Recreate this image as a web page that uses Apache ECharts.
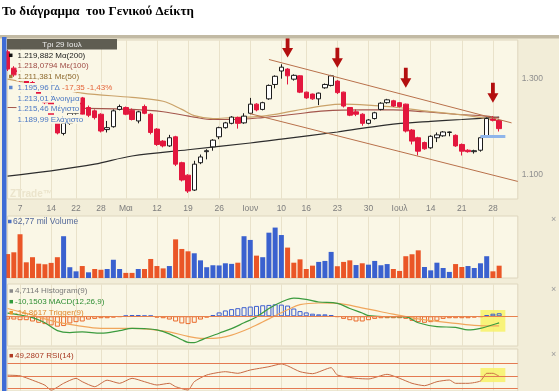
<!DOCTYPE html>
<html><head><meta charset="utf-8">
<script src="https://cdn.jsdelivr.net/npm/echarts@6/dist/echarts.min.js"></script>
<style>html,body{margin:0;padding:0;background:#fff;}#c{width:559px;height:391px;}</style>
</head><body><div id="c"></div>
<script>
// ---------- DATA ----------
const dates = ['03/04','04/04','07/04','08/04','09/04','10/04','11/04','14/04','15/04','16/04','17/04','22/04','23/04','24/04','25/04','28/04','29/04','30/04','02/05','05/05','06/05','07/05','08/05','09/05','12/05','13/05','14/05','15/05','16/05','19/05','20/05','21/05','22/05','23/05','26/05','27/05','28/05','29/05','30/05','02/06','03/06','04/06','05/06','06/06','10/06','11/06','12/06','13/06','16/06','17/06','18/06','19/06','20/06','23/06','24/06','25/06','26/06','27/06','30/06','01/07','02/07','03/07','04/07','07/07','08/07','09/07','10/07','11/07','14/07','15/07','16/07','17/07','18/07','21/07','22/07','23/07','24/07','25/07','28/07','29/07','30/07','31/07','01/08'];
const tickDates  = ['07/04','14/04','22/04','28/04','05/05','12/05','19/05','26/05','02/06','10/06','16/06','23/06','30/06','07/07','14/07','21/07','28/07'];
const tickLabels = ['7','14','22','28','Μαι','12','19','26','Ιουν','10','16','23','30','Ιουλ','14','21','28'];

const opens  = [1356,1322,1310,1300,1292,1284,1262,1255,1208,1186,1207,1228,1260,1240,1233,1226,1194,1200,1236,1240,1234,1212,1242,1226,1195,1170,1160,1179,1125,1099,1068,1125,1148,1158,1179,1198,1207,1219,1208,1228,1247,1236,1258,1288,1316,1320,1299,1306,1272,1268,1258,1281,1286,1295,1272,1240,1231,1226,1207,1217,1236,1250,1254,1250,1247,1193,1177,1167,1156,1177,1181,1188,1182,1163,1151,1148,1151,1181,1216,1213.01];
const closes = [1320,1308,1298,1290,1280,1262,1250,1215,1187,1207,1228,1240,1226,1224,1219,1191,1198,1233,1242,1226,1215,1231,1228,1188,1163,1160,1177,1122,1089,1066,1122,1137,1150,1172,1198,1208,1220,1207,1222,1247,1235,1250,1286,1305,1324,1306,1307,1272,1260,1258,1270,1288,1306,1271,1243,1224,1226,1207,1214,1229,1249,1256,1243,1242,1191,1170,1149,1154,1180,1183,1189,1189,1160,1149,1148,1150,1177,1217,1213.31,1195.96];
const lows   = [1316,1304,1294,1286,1277,1259,1246,1212,1184,1182,1204,1225,1222,1220,1215,1188,1188,1198,1234,1224,1213,1207,1226,1184,1160,1157,1158,1118,1086,1062,1066,1122,1132,1150,1174,1196,1205,1196,1206,1226,1232,1234,1256,1280,1300,1288,1296,1270,1258,1256,1245,1279,1284,1268,1240,1222,1222,1202,1205,1215,1234,1248,1241,1240,1188,1163,1140,1152,1154,1168,1179,1180,1158,1140,1146,1144,1148,1179,1211,1189.99];
const highs  = [1360,1326,1313,1303,1295,1286,1265,1257,1210,1210,1232,1244,1262,1244,1236,1228,1212,1236,1246,1242,1238,1233,1246,1228,1197,1172,1183,1181,1127,1101,1129,1142,1153,1174,1200,1210,1222,1221,1228,1260,1249,1252,1288,1307,1330,1322,1309,1307,1273,1269,1271,1290,1308,1297,1273,1241,1236,1228,1216,1231,1251,1258,1256,1251,1248,1195,1179,1169,1182,1188,1191,1190,1184,1165,1153,1152,1179,1219,1222,1215.46];

const volumes = [122,131,223,80,106,73,70,77,106,213, 55,34,61,29,46,42,46,93,46,26, 26,46,46,97,61,49,61,197,148,136, 126,90,55,65,64,75,72,78,213,194, 114,106,231,257,219,155,78,95,46,63, 82,87,133,60,82,90,66,75,68,87, 65,71,46,36,111,121,141,56,39,78, 51,31,71,56,61,51,75,111,34,62.77];
const volumeDirection = 'DDDDDDDDDU' + 'UUDUDDUUUD' + 'DUDDDDUDDD' + 'UUUUUUUDUU' + 'DUUUUDDDDD' + 'UUUDDDUDUU' + 'UUDDDDDUUU' + 'UUDDUUUUDD';

const ma200 = [['03/04',1097],['14/04',1108],['25/04',1122],['06/05',1139],['19/05',1152],['02/06',1166],['10/06',1174],['23/06',1189],['03/07',1204],['14/07',1211],['21/07',1215],['29/07',1219.882]];
const ma100 = [['03/04',1240],['17/04',1239],['06/05',1236],['13/05',1231],['20/05',1220],['23/05',1215],['28/05',1215],['04/06',1219],['12/06',1226],['19/06',1233],['27/06',1235],['04/07',1235],['11/07',1231],['18/07',1226],['25/07',1222],['29/07',1218.0794]];
const ma50  = [['03/04',1299],['11/04',1285],['23/04',1270],['06/05',1261],['13/05',1253],['16/05',1236],['20/05',1223],['23/05',1217],['28/05',1219],['04/06',1222],['12/06',1233],['19/06',1244],['24/06',1247],['01/07',1244],['04/07',1241],['11/07',1233],['18/07',1226],['25/07',1217],['29/07',1211.381]];

const histogram = [-5,-5,-6,-6,-8,-10,-12,-14,-16,-15, -11,-9,-8,-5,-4,-3,-3,-2,-1,1, 2,2,1,1,-2,-3,-5,-8,-11,-12, -10,-5,-2,2,6,9,11,12.5,14,15, 16,17,17.5,18.5,18,16.5,12,8,6,4, 3,3,2,-1,-4,-6,-8,-8,-6,-4, -3,-3,-3,-3,-4,-7,-9,-10,-9,-7, -4,-3,-3,-3,-3,-2,-1,2,4,4.7114];
const macd = [['03/04',5],['07/04',2],['09/04',-2],['11/04',-10],['15/04',-22],['17/04',-25],['23/04',-24],['28/04',-26],['02/05',-22],['06/05',-18.5],['08/05',-19],['12/05',-21],['14/05',-27],['16/05',-36],['19/05',-40],['20/05',-40.5],['21/05',-37],['22/05',-33],['26/05',-26],['28/05',-19],['30/05',-10],['03/06',-1],['05/06',12],['10/06',22],['12/06',28],['16/06',26],['18/06',22],['23/06',20],['25/06',12],['27/06',5],['30/06',1],['03/07',-0.5],['08/07',-1],['10/07',-10],['15/07',-16],['18/07',-17],['22/07',-21],['24/07',-18.5],['28/07',-13],['29/07',-10.1503]];
const trigger = [['03/04',12],['07/04',7],['09/04',2],['11/04',-4],['15/04',-9],['22/04',-14],['28/04',-18.5],['06/05',-18.5],['09/05',-20],['14/05',-24],['19/05',-31],['21/05',-34],['23/05',-34],['28/05',-29],['02/06',-18],['05/06',-4],['11/06',10],['13/06',18],['18/06',20.5],['23/06',20],['26/06',15],['02/07',7],['07/07',1.5],['10/07',-4],['15/07',-7.7],['18/07',-10.8],['23/07',-14],['29/07',-14.8617]];
const rsi = [['03/04',51],['07/04',50],['09/04',43],['11/04',35],['14/04',27],['16/04',38],['22/04',46],['23/04',40.6],['25/04',32.6],['29/04',43],['02/05',38],['06/05',46],['08/05',40.6],['12/05',35.3],['14/05',38],['15/05',32.6],['19/05',27.3],['20/05',40.6],['22/05',51.3],['27/05',56.6],['29/05',54],['02/06',59.3],['05/06',64.6],['10/06',69],['11/06',66],['13/06',56.6],['17/06',53.4],['20/06',63],['23/06',51.3],['26/06',46],['30/06',45],['03/07',52.4],['07/07',46],['09/07',38],['11/07',34.2],['15/07',40.6],['17/07',43.3],['18/07',38],['22/07',38],['24/07',41.7],['25/07',54],['28/07',54],['29/07',49.2807]];
const rsiLevels = [70, 50, 30];

// annotations (data coordinates)
const arrowDates = ['11/06','23/06','08/07','28/07'];
const arrowTips  = [1344, 1323, 1281, 1250];
const upperTrend = [['05/06',1340],['31/07',1208]];
const lowerTrend = [['02/06',1227],['01/08',1086]];
const markerBar  = [['24/07',1180],['30/07',1180]];

// ---------- CHART ----------
const chart = echarts.init(document.getElementById('c'));
const tickSet = new Set(tickDates);
const tickMap = {}; tickDates.forEach((d, j) => tickMap[d] = tickLabels[j]);
const isTick = (idx, val) => tickSet.has(val);
const FONT = 'Liberation Sans';
const PLOT_BG = '#faf7e6';

function xAxisFor(g, labels) {
  return {
    type: 'category', data: dates, gridIndex: g, boundaryGap: false,
    axisLine: {show: false}, axisTick: {show: false},
    axisLabel: labels ? {interval: isTick, formatter: v => tickMap[v] || '', color: '#7d7d7d', fontSize: 8.5, margin: 5, fontFamily: FONT} : {show: false},
    splitLine: {show: true, interval: isTick, lineStyle: {color: '#e9e2ca', width: 1}}
  };
}
function gridFor(top, height) {
  return {left: 7.6, right: 41.2, top: top, height: height, show: true, backgroundColor: PLOT_BG, borderColor: '#ded6be', borderWidth: 1};
}
function boxLabel(text, bg, size) {
  return {show: true, position: 'end', formatter: text, color: '#ffffff', backgroundColor: bg,
    padding: [1, 3, 0, 3], fontSize: size || 10, lineHeight: size ? size + 0.5 : 10, fontFamily: FONT, distance: 3};
}
function valueBox(y, text, bg, size) {
  return {silent: true, symbol: ['none', 'none'], animation: false, lineStyle: {opacity: 0},
    data: [{yAxis: y, label: boxLabel(text, bg, size)}]};
}
const thousands = v => { const s = String(Math.round(v)); return s.slice(0, s.length - 3) + '.' + s.slice(-3); };

const candleData = opens.map((o, j) => [o, closes[j], lows[j], highs[j]]);
const volData = volumes.map((v, j) => ({value: v, itemStyle: {color: volumeDirection[j] === 'U' ? '#3a61cf' : '#ea5627'}}));
const histData = histogram.map(v => ({value: v, itemStyle: {color: 'rgba(0,0,0,0)', borderColor: v >= 0 ? '#3d5fcf' : '#ea6b2c', borderWidth: 1}}));

const lineBase = {type: 'line', showSymbol: false, symbol: 'none', smooth: 0.35};

const series = [
  Object.assign({}, lineBase, {name: 'ma200', xAxisIndex: 0, yAxisIndex: 0, data: ma200, lineStyle: {color: '#2d2d2d', width: 1.2}, z: 2,
    markLine: valueBox(1219.882, '1.219,882', '#1e1e1e')}),
  Object.assign({}, lineBase, {name: 'ma100', xAxisIndex: 0, yAxisIndex: 0, data: ma100, lineStyle: {color: '#a4564c', width: 1.1}, z: 2}),
  Object.assign({}, lineBase, {name: 'ma50', xAxisIndex: 0, yAxisIndex: 0, data: ma50, lineStyle: {color: '#caa269', width: 1.2}, z: 2,
    markLine: valueBox(1211.381, '1.211,381', '#9a7432')}),
  {
    type: 'candlestick', name: 'ΓΔ', xAxisIndex: 0, yAxisIndex: 0, data: candleData, barWidth: 5, clip: false, z: 3,
    itemStyle: {color: '#ffffff', color0: '#e3173e', borderColor: '#1c1c1c', borderColor0: '#e3173e', borderWidth: 1},
    markPoint: {
      silent: true, animation: false,
      symbol: 'path://M3.6,0 L7.4,0 L7.4,10.5 L11,10.5 L5.5,20 L0,10.5 L3.6,10.5 Z',
      symbolSize: [11, 20], symbolOffset: [0, '-50%'], symbolKeepAspect: false,
      itemStyle: {color: '#b30f0f'}, label: {show: false},
      data: arrowDates.map((d, j) => ({coord: [d, arrowTips[j]]}))
    },
    markLine: {
      silent: true, animation: false, symbol: ['none', 'none'], label: {show: false},
      lineStyle: {type: 'solid'},
      data: [
        [{coord: upperTrend[0], lineStyle: {color: '#b9714b', width: 1, type: 'solid'}}, {coord: upperTrend[1]}],
        [{coord: lowerTrend[0], lineStyle: {color: '#b9714b', width: 1, type: 'solid'}}, {coord: lowerTrend[1]}],
        [{coord: markerBar[0], lineStyle: {color: '#8fb5ea', width: 3, type: 'solid'}}, {coord: markerBar[1]}],
        {yAxis: 1195.96, lineStyle: {opacity: 0}, label: boxLabel('1.195,96', '#6f9de2')}
      ]
    }
  },
  {type: 'bar', name: 'volume', xAxisIndex: 1, yAxisIndex: 1, data: volData, barWidth: 5,
    markLine: valueBox(62.77, '62,77 mil', '#6b95dc', 9)},
  {type: 'line', name: 'hl1', xAxisIndex: 2, yAxisIndex: 2, data: [], z: 1,
    markArea: {silent: true, animation: false, itemStyle: {color: 'rgba(247,242,110,0.9)'}, data: [[{coord: ['24/07', 9.7]}, {coord: ['30/07', -23.7]}]]}},
  {type: 'bar', name: 'hist', xAxisIndex: 2, yAxisIndex: 2, data: histData, barWidth: 5, z: 2,
    markLine: {silent: true, animation: false, symbol: ['none', 'none'], label: {show: false}, lineStyle: {type: 'solid'},
      data: [
        {yAxis: 0, lineStyle: {color: '#e8824e', width: 1, type: 'solid'}},
        {yAxis: 4.7114, lineStyle: {opacity: 0}, label: boxLabel('4,7114', '#8c8c8c')}
      ]}},
  Object.assign({}, lineBase, {name: 'trigger', xAxisIndex: 2, yAxisIndex: 2, data: trigger, lineStyle: {color: '#f0a65c', width: 1.2}, z: 3,
    markLine: valueBox(-14.8617, '-14,8617', '#ea952e')}),
  Object.assign({}, lineBase, {name: 'macd', xAxisIndex: 2, yAxisIndex: 2, data: macd, lineStyle: {color: '#3b9b3e', width: 1.2}, z: 4,
    markLine: valueBox(-10.1503, '-10,1503', '#1f9a46')}),
  {type: 'line', name: 'hl2', xAxisIndex: 3, yAxisIndex: 3, data: [], z: 1,
    markArea: {silent: true, animation: false, itemStyle: {color: 'rgba(247,242,110,0.9)'}, data: [[{coord: ['24/07', 62.5]}, {coord: ['30/07', 40]}]]}},
  Object.assign({}, lineBase, {name: 'rsi', xAxisIndex: 3, yAxisIndex: 3, data: rsi, smooth: 0.2, lineStyle: {color: '#c76a43', width: 1}, z: 3,
    markLine: {silent: true, animation: false, symbol: ['none', 'none'], label: {show: false}, lineStyle: {type: 'solid'},
      data: rsiLevels.map(v => ({yAxis: v, lineStyle: {color: '#e47a52', width: 1, type: 'solid'}}))
        .concat([{yAxis: 49.2807, lineStyle: {opacity: 0}, label: boxLabel('49,2807', '#c43a1c')}])}})
];

function legendText(x, y, text, fill, size, bg) {
  const st = {text: text, fill: fill, font: (size || 8) + 'px "' + FONT + '"', verticalAlign: 'middle', align: 'left'};
  if (bg) { st.backgroundColor = bg; st.padding = [1, 1, 0, 1]; }
  return {type: 'text', x: x, y: y, z: 100, silent: true, style: st};
}
function square(x, y, fill) {
  return {type: 'rect', z: 100, silent: true, shape: {x: x, y: y - 1.75, width: 3.5, height: 3.5}, style: {fill: fill}};
}

const graphics = [
  {type: 'rect', z: -10, silent: true, shape: {x: 0, y: 36, width: 559, height: 355}, style: {fill: '#f2edd8'}},
  {type: 'rect', z: 60, silent: true, shape: {x: 0, y: 35, width: 559, height: 3.5}, style: {fill: '#c2baa4'}},
  {type: 'rect', z: 60, silent: true, shape: {x: 2, y: 37, width: 4.5, height: 354}, style: {fill: '#3e6cd6'}},
  {type: 'text', x: 2, y: 12, z: 100, silent: true, style: {text: 'Το διάγραμμα  του Γενικού Δείκτη', fill: '#000', font: 'bold 13px "Liberation Serif"', verticalAlign: 'middle'}},
  {type: 'rect', z: 100, silent: true, shape: {x: 7, y: 39, width: 110, height: 10.5}, style: {fill: '#5f5d52'}},
  {type: 'text', x: 62, y: 44.5, z: 101, silent: true, style: {text: 'Τρι 29 Ιουλ', fill: '#ececec', font: '8px "' + FONT + '"', align: 'center', verticalAlign: 'middle'}},
  {type: 'text', x: 10, y: 194, z: 5, silent: true, style: {text: 'ZTrade™', fill: '#ebe4cc', font: 'bold 10px "' + FONT + '"', verticalAlign: 'middle'}},
  square(9, 55.3, '#111111'),
  legendText(16.5, 55.3, '1.219,882 Μα(200)', '#1a1a1a', 8, PLOT_BG),
  legendText(16.5, 65.8, '1.218,0794 Με(100)', '#9e4a44', 8, PLOT_BG),
  square(9, 76.5, '#a27b3a'),
  legendText(16.5, 76.5, '1.211,381 Με(50)', '#8e6a2e', 8, PLOT_BG),
  square(9, 87.5, '#5b86d0'),
  {type: 'text', x: 16.5, y: 87.5, z: 100, silent: true, style: {
    text: '{a|1.195,96 ΓΔ} {b|-17,35 -1,43%}', font: '8px "' + FONT + '"', verticalAlign: 'middle', backgroundColor: PLOT_BG, padding: [1, 1, 0, 1],
    rich: {a: {fill: '#4b78c4', font: '8px "' + FONT + '"'}, b: {fill: '#e5653a', font: '8px "' + FONT + '"'}}}},
  legendText(16.5, 98.3, '1.213,01 Άνοιγμα', '#4b78c4', 8, PLOT_BG),
  legendText(16.5, 108.8, '1.215,46 Μέγιστο', '#4b78c4', 8, PLOT_BG),
  legendText(16.5, 119.3, '1.189,99 Ελάχιστο', '#4b78c4', 8, PLOT_BG),
  square(8, 221.5, '#4a6fc4'),
  legendText(13, 221.5, '62,77 mil Volume', '#54699a', 8.5),
  square(9.5, 291, '#8a8a8a'),
  legendText(15, 291, '4,7114 Histogram(9)', '#7a7a7a', 8),
  square(9.5, 301.7, '#2f9a3a'),
  legendText(15, 301.7, '-10,1503 MACD(12,26,9)', '#2f8f34', 8),
  square(9.5, 312.7, '#e8952e'),
  legendText(15, 312.7, '-14,8617 Trigger(9)', '#e08a2e', 8),
  square(9.5, 355.7, '#b03a22'),
  legendText(15, 355.7, '49,2807 RSI(14)', '#a83a22', 8),
  legendText(551, 220, '×', '#9a9a9a', 9),
  legendText(551, 290, '×', '#9a9a9a', 9),
  legendText(551, 355, '×', '#9a9a9a', 9)
];

chart.setOption({
  animation: false,
  backgroundColor: '#ffffff',
  textStyle: {fontFamily: FONT},
  grid: [gridFor(40, 159), gridFor(216, 62), gridFor(284, 62), gridFor(349, 42)],
  xAxis: [xAxisFor(0, true), xAxisFor(1, false), xAxisFor(2, false), xAxisFor(3, false)],
  yAxis: [
    {type: 'value', gridIndex: 0, position: 'right', min: 1049.4, max: 1380.6,
      axisLine: {show: false}, axisTick: {show: false}, splitLine: {show: false},
      axisLabel: {customValues: [1100, 1300], formatter: thousands, color: '#8f8f8f', fontSize: 8.5, margin: 4, fontFamily: FONT}},
    {type: 'value', gridIndex: 1, min: 0, max: 316, show: false},
    {type: 'value', gridIndex: 2, min: -45.7, max: 49.7, show: false},
    {type: 'value', gridIndex: 3, min: 25.7, max: 92.9, show: false}
  ],
  series: series,
  graphic: {elements: graphics}
});
</script>
</body></html>
